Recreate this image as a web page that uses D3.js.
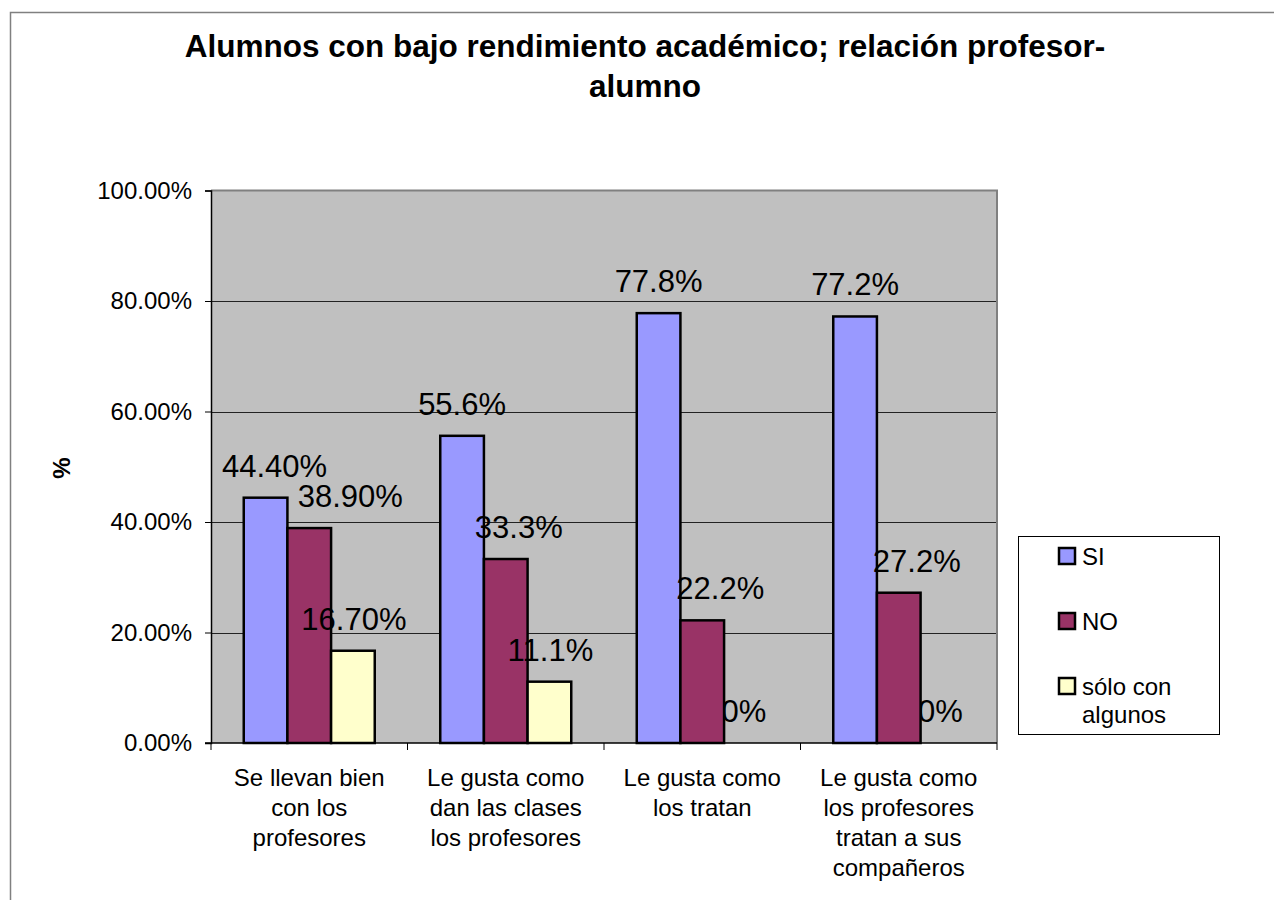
<!DOCTYPE html>
<html>
<head>
<meta charset="utf-8">
<script src="https://cdn.jsdelivr.net/npm/d3@7"></script>
<style>
  html, body { margin: 0; padding: 0; background: #fff; }
  svg { display: block; font-family: Arial, "Liberation Sans", sans-serif; }
</style>
</head>
<body>
<svg id="chart" width="1274" height="900"></svg>
<script>
// ---- data ----
const titleLines = ["Alumnos con bajo rendimiento académico; relación profesor-", "alumno"];
const yAxisTitle = "%";
const categories = [
  ["Se llevan bien", "con los", "profesores"],
  ["Le gusta como", "dan las clases", "los profesores"],
  ["Le gusta como", "los tratan"],
  ["Le gusta como", "los profesores", "tratan a sus", "compañeros"]
];
const seriesNames = ["SI", "NO", "sólo con algunos"];
const legendLines = [["SI"], ["NO"], ["sólo con", "algunos"]];
const siValues    = [0.444, 0.556, 0.778, 0.772];
const noValues    = [0.389, 0.333, 0.222, 0.272];
const soloValues  = [0.167, 0.111, 0.0, 0.0];
const siLabels    = ["44.40%", "55.6%", "77.8%", "77.2%"];
const noLabels    = ["38.90%", "33.3%", "22.2%", "27.2%"];
const soloLabels  = ["16.70%", "11.1%", "0%", "0%"];
const yTicks      = [0, 0.2, 0.4, 0.6, 0.8, 1.0];

// ---- styles / layout ----
const colors = ["#9999FF", "#993366", "#FFFFCC"];
const labelNudge = [[9, 0, 0, 0], [41, 13, 18, 18], [1, 1, -2, -2]]; // manual label shifts (px)
const plot = { left: 211, right: 997, top: 190.5, bottom: 743 };

const series = [siValues, noValues, soloValues];
const seriesLabels = [siLabels, noLabels, soloLabels];

const svg = d3.select("#chart");

// outer chart border
svg.append("rect")
  .attr("x", 10.5).attr("y", 12.5)
  .attr("width", 1300).attr("height", 1000)
  .attr("fill", "#fff").attr("stroke", "#808080").attr("stroke-width", 1.5);

// title
svg.append("text")
  .attr("x", 645).attr("y", 57)
  .attr("text-anchor", "middle")
  .attr("font-size", 31.5).attr("font-weight", "bold")
  .selectAll("tspan").data(titleLines).join("tspan")
  .attr("x", 645).attr("dy", (d, i) => i === 0 ? 0 : 40)
  .text(d => d);

// scales
const x0 = d3.scaleBand().domain(d3.range(categories.length))
  .range([plot.left, plot.right]).paddingInner(0).paddingOuter(0);
const x1 = d3.scaleBand().domain(d3.range(series.length))
  .range([0, x0.bandwidth()]).paddingInner(0).paddingOuter(0.75);
const y = d3.scaleLinear().domain([0, 1]).range([plot.bottom, plot.top]);

// plot background
svg.append("rect")
  .attr("x", plot.left).attr("y", plot.top)
  .attr("width", plot.right - plot.left).attr("height", plot.bottom - plot.top)
  .attr("fill", "#C0C0C0");

// gridlines
svg.append("g").selectAll("line").data(yTicks.filter(t => t > 0 && t < 1)).join("line")
  .attr("x1", plot.left).attr("x2", plot.right)
  .attr("y1", d => Math.round(y(d)) + 0.5).attr("y2", d => Math.round(y(d)) + 0.5)
  .attr("stroke", "#222").attr("stroke-width", 1);

// plot frame top/right
svg.append("path")
  .attr("d", `M${plot.left},${plot.top}H${plot.right}V${plot.bottom}`)
  .attr("fill", "none").attr("stroke", "#808080").attr("stroke-width", 2);

// flattened bar data
const bars = [];
series.forEach((vals, s) => vals.forEach((v, c) => bars.push({
  s, c, v, label: seriesLabels[s][c], nudge: labelNudge[s][c]
})));

const labelX = d => x0(d.c) + x1(d.s) + x1.bandwidth() / 2 + d.nudge;
const labelY = d => y(d.v) - 21;

// zero-value labels sit behind bars
svg.append("g").selectAll("text").data(bars.filter(d => d.v === 0)).join("text")
  .attr("x", labelX).attr("y", labelY)
  .attr("text-anchor", "middle").attr("font-size", 31)
  .attr("fill", "#000").text(d => d.label);

// bars
svg.append("g").selectAll("rect").data(bars.filter(d => d.v > 0)).join("rect")
  .attr("x", d => x0(d.c) + x1(d.s))
  .attr("y", d => y(d.v))
  .attr("width", x1.bandwidth())
  .attr("height", d => y(0) - y(d.v))
  .attr("fill", d => colors[d.s])
  .attr("stroke", "#000").attr("stroke-width", 2.5);

// data labels
svg.append("g").selectAll("text").data(bars.filter(d => d.v > 0)).join("text")
  .attr("x", labelX).attr("y", labelY)
  .attr("text-anchor", "middle").attr("font-size", 31)
  .attr("fill", "#000").text(d => d.label);

// y axis
const yAxis = d3.axisLeft(y).tickValues(yTicks).tickFormat(d3.format(".2%")).tickSize(6).tickPadding(13);
const gy = svg.append("g").attr("transform", `translate(${plot.left},0)`).call(yAxis);
gy.select(".domain").attr("stroke", "#000").attr("stroke-width", 1.5);
gy.selectAll(".tick line").attr("stroke", "#000");
gy.selectAll(".tick text").attr("font-size", 24).attr("fill", "#000")
  .attr("font-family", "Arial, 'Liberation Sans', sans-serif");

// x axis (boundary ticks)
const gx = svg.append("g");
gx.append("line").attr("x1", plot.left - 6).attr("x2", plot.right)
  .attr("y1", plot.bottom).attr("y2", plot.bottom)
  .attr("stroke", "#000").attr("stroke-width", 1.5);
gx.selectAll("line.tk").data(d3.range(categories.length + 1)).join("line")
  .attr("class", "tk")
  .attr("x1", i => plot.left + i * x0.step()).attr("x2", i => plot.left + i * x0.step())
  .attr("y1", plot.bottom).attr("y2", plot.bottom + 7)
  .attr("stroke", "#000").attr("stroke-width", 1);

// category labels
gx.selectAll("text.cat").data(categories).join("text")
  .attr("class", "cat")
  .attr("text-anchor", "middle").attr("font-size", 24).attr("fill", "#000")
  .each(function(lines, i) {
    d3.select(this).selectAll("tspan").data(lines).join("tspan")
      .attr("x", x0(i) + x0.bandwidth() / 2)
      .attr("y", (d, j) => 786 + j * 30)
      .text(d => d);
  });

// y axis title
svg.append("text")
  .attr("transform", "translate(70,468) rotate(-90)")
  .attr("text-anchor", "middle")
  .attr("font-size", 24).attr("font-weight", "bold")
  .text(yAxisTitle);

// legend
const legend = svg.append("g");
legend.append("rect")
  .attr("x", 1018.5).attr("y", 536.5).attr("width", 201).attr("height", 198)
  .attr("fill", "#fff").attr("stroke", "#000").attr("stroke-width", 1);
const items = legend.selectAll("g.item").data(seriesNames).join("g")
  .attr("class", "item")
  .attr("transform", (d, i) => `translate(1059,${548 + i * 65})`);
items.append("rect")
  .attr("width", 16).attr("height", 16)
  .attr("fill", (d, i) => colors[i]).attr("stroke", "#000").attr("stroke-width", 2.5);
items.append("text")
  .attr("font-size", 24).attr("fill", "#000")
  .each(function(d, i) {
    d3.select(this).selectAll("tspan").data(legendLines[i]).join("tspan")
      .attr("x", 23).attr("y", (t, j) => 17 + j * 28)
      .text(t => t);
  });
</script>
</body>
</html>
